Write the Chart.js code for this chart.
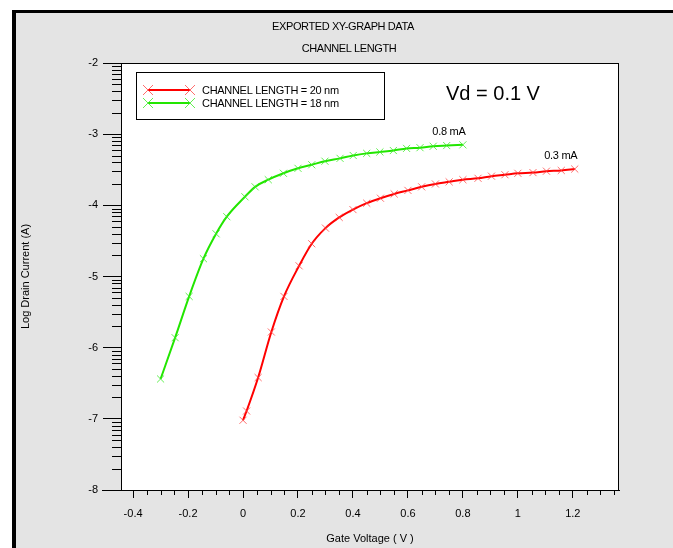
<!DOCTYPE html>
<html>
<head>
<meta charset="utf-8">
<title>Channel length</title>
<script src="https://cdn.jsdelivr.net/npm/chart.js@4.4.1/dist/chart.umd.min.js"></script>
<style>
    html, body { margin: 0; padding: 0; background: #fff; }
    canvas { display: block; }
</style>
</head>
<body>
<canvas id="ivChart" width="673" height="548"></canvas>
<script>
// values
const gateVoltage20 = [0, 0.013, 0.055, 0.103, 0.149, 0.204, 0.25, 0.3, 0.35, 0.4, 0.45, 0.5, 0.55, 0.6,
    0.65, 0.7, 0.75, 0.8, 0.855, 0.904, 0.953, 1.0, 1.055, 1.104, 1.158, 1.207];
const logDrain20 = [-7.02, -6.89, -6.42, -5.78, -5.28, -4.85, -4.54, -4.32, -4.17, -4.06, -3.97, -3.9, -3.84, -3.79,
    -3.74, -3.7, -3.67, -3.64, -3.62, -3.59, -3.57, -3.55, -3.54, -3.52, -3.51, -3.49];

const gateVoltage18 = [-0.3, -0.247, -0.196, -0.144, -0.098, -0.059, 0.007, 0.044, 0.092, 0.147, 0.2, 0.25, 0.298, 0.353,
    0.401, 0.45, 0.498, 0.547, 0.595, 0.644, 0.692, 0.741, 0.8];
const logDrain18 = [-6.44, -5.86, -5.28, -4.75, -4.4, -4.16, -3.88, -3.74, -3.64, -3.55, -3.48, -3.43, -3.38, -3.34,
    -3.3, -3.27, -3.25, -3.23, -3.2, -3.19, -3.17, -3.16, -3.15];

const seriesLabels = ["CHANNEL LENGTH = 20 nm", "CHANNEL LENGTH = 18 nm"];
const endLabels = ["0.3 mA", "0.8 mA"];
const xTicks = [-0.4, -0.2, 0, 0.2, 0.4, 0.6, 0.8, 1, 1.2];
const yTicks = [-8, -7, -6, -5, -4, -3, -2];

const FONT = "'Liberation Sans', Arial, sans-serif";

function points(xs, ys) {
    return xs.map((x, i) => ({ x: x, y: ys[i] }));
}

function drawCross(ctx, x, y, r) {
    ctx.beginPath();
    ctx.moveTo(x - r, y - r); ctx.lineTo(x + r, y + r);
    ctx.moveTo(x - r, y + r); ctx.lineTo(x + r, y - r);
    ctx.stroke();
}

// frame, titles, minor ticks, legend and notes
const exportPlugin = {
    id: "exportFrame",
    beforeDraw(chart) {
        const { ctx, chartArea: a, width, height } = chart;
        ctx.save();
        ctx.fillStyle = "#ffffff";
        ctx.fillRect(0, 0, width, height);
        ctx.fillStyle = "#e4e4e4";
        ctx.fillRect(15, 13, width - 15, height - 13);
        ctx.fillStyle = "#000";
        ctx.fillRect(12, 10, width - 12, 3);
        ctx.fillRect(12, 10, 4, height - 10);
        ctx.fillStyle = "#ffffff";
        ctx.fillRect(a.left, a.top, a.right - a.left, a.bottom - a.top);

        ctx.fillStyle = "#000";
        ctx.font = "11px " + FONT;
        ctx.letterSpacing = "-0.4px";
        ctx.textAlign = "center";
        ctx.textBaseline = "middle";
        ctx.fillText("EXPORTED XY-GRAPH DATA", 343, 27);
        ctx.fillText("CHANNEL LENGTH", 349, 49);
        ctx.restore();
    },
    afterDatasetsDraw(chart) {
        const { ctx, chartArea: a, scales } = chart;
        ctx.save();
        ctx.strokeStyle = "#000";
        ctx.lineWidth = 1;
        ctx.strokeRect(a.left + 0.5, a.top + 0.5, a.right - a.left - 1, a.bottom - a.top);

        // log style minor ticks on y
        ctx.beginPath();
        for (let d = -8; d < -2; d++) {
            for (let k = 2; k <= 9; k++) {
                const py = Math.round(scales.y.getPixelForValue(d + Math.log10(k))) + 0.5;
                ctx.moveTo(a.left - 9, py);
                ctx.lineTo(a.left, py);
            }
        }
        // minor ticks on x every 0.05
        for (let i = -8; i <= 27; i++) {
            if (i % 4 === 0) continue;
            const v = i * 0.05;
            if (v < scales.x.min || v > scales.x.max) continue;
            const px = Math.round(scales.x.getPixelForValue(v)) + 0.5;
            ctx.moveTo(px, a.bottom);
            ctx.lineTo(px, a.bottom + 5);
        }
        // x axis line runs out past the y axis
        ctx.moveTo(a.left - 19, a.bottom + 0.5);
        ctx.lineTo(a.left, a.bottom + 0.5);
        ctx.stroke();

        // end labels
        ctx.fillStyle = "#000";
        ctx.font = "11px " + FONT;
        ctx.letterSpacing = "-0.3px";
        ctx.textAlign = "center";
        ctx.textBaseline = "middle";
        chart.data.datasets.forEach((ds, i) => {
            const last = ds.data[ds.data.length - 1];
            const px = scales.x.getPixelForValue(last.x);
            const py = scales.y.getPixelForValue(last.y);
            ctx.fillText(endLabels[i], px - 14, py - 13);
        });

        // legend box
        ctx.fillStyle = "#fff";
        ctx.fillRect(136, 72, 248, 47);
        ctx.strokeStyle = "#000";
        ctx.strokeRect(136.5, 72.5, 248, 47);
        chart.data.datasets.forEach((ds, i) => {
            const y = 90 + i * 13;
            ctx.strokeStyle = ds.borderColor;
            ctx.lineWidth = 2;
            ctx.beginPath();
            ctx.moveTo(148, y);
            ctx.lineTo(190, y);
            ctx.stroke();
            ctx.strokeStyle = ds.pointBorderColor;
            ctx.lineWidth = 1;
            drawCross(ctx, 148, y, 5);
            drawCross(ctx, 190, y, 5);
            ctx.fillStyle = "#000";
            ctx.textAlign = "left";
            ctx.fillText(ds.label, 202, y + 1);
        });

        ctx.letterSpacing = "0px";
        ctx.font = "20px " + FONT;
        ctx.textAlign = "left";
        ctx.fillText("Vd = 0.1 V", 446, 94);
        ctx.restore();
    }
};

new Chart(document.getElementById("ivChart"), {
    type: "line",
    data: {
        datasets: [
            {
                label: seriesLabels[0],
                data: points(gateVoltage20, logDrain20),
                borderColor: "#ff0000",
                borderWidth: 2,
                pointStyle: "crossRot",
                pointRadius: 5,
                pointBorderWidth: 1,
                pointBorderColor: "rgba(255,60,60,0.75)",
                cubicInterpolationMode: "monotone"
            },
            {
                label: seriesLabels[1],
                data: points(gateVoltage18, logDrain18),
                borderColor: "#22e600",
                borderWidth: 2,
                pointStyle: "crossRot",
                pointRadius: 5,
                pointBorderWidth: 1,
                pointBorderColor: "rgba(60,235,40,0.8)",
                cubicInterpolationMode: "monotone"
            }
        ]
    },
    options: {
        responsive: false,
        animation: false,
        layout: { padding: { left: 0, right: 54, top: 63, bottom: 0 } },
        plugins: {
            legend: { display: false },
            tooltip: { enabled: false }
        },
        scales: {
            x: {
                type: "linear",
                min: -0.444,
                max: 1.368,
                afterBuildTicks: s => { s.ticks = xTicks.map(v => ({ value: v })); },
                afterFit: s => { s.height = 58; },
                grid: { drawOnChartArea: false, drawTicks: true, tickLength: 8, color: "#000" },
                border: { display: true, color: "#000" },
                ticks: {
                    autoSkip: false,
                    maxRotation: 0,
                    padding: 9,
                    color: "#000",
                    font: { family: FONT, size: 11 },
                    callback: v => String(Math.round(v * 10) / 10)
                },
                title: {
                    display: true,
                    text: "Gate Voltage ( V )",
                    color: "#000",
                    font: { family: FONT, size: 11 },
                    padding: { top: 0, bottom: 2 }
                }
            },
            y: {
                type: "linear",
                min: -8,
                max: -2,
                afterBuildTicks: s => { s.ticks = yTicks.map(v => ({ value: v })); },
                afterFit: s => { s.width = 121; },
                grid: { drawOnChartArea: false, drawTicks: true, tickLength: 18, color: "#000" },
                border: { display: true, color: "#000" },
                ticks: {
                    autoSkip: false,
                    padding: 5,
                    color: "#000",
                    font: { family: FONT, size: 11 },
                    callback: v => String(v)
                },
                title: {
                    display: true,
                    text: "Log Drain Current (A)",
                    color: "#000",
                    font: { family: FONT, size: 11 },
                    padding: { top: 19, bottom: 0 }
                }
            }
        }
    },
    plugins: [exportPlugin]
});
</script>
</body>
</html>
